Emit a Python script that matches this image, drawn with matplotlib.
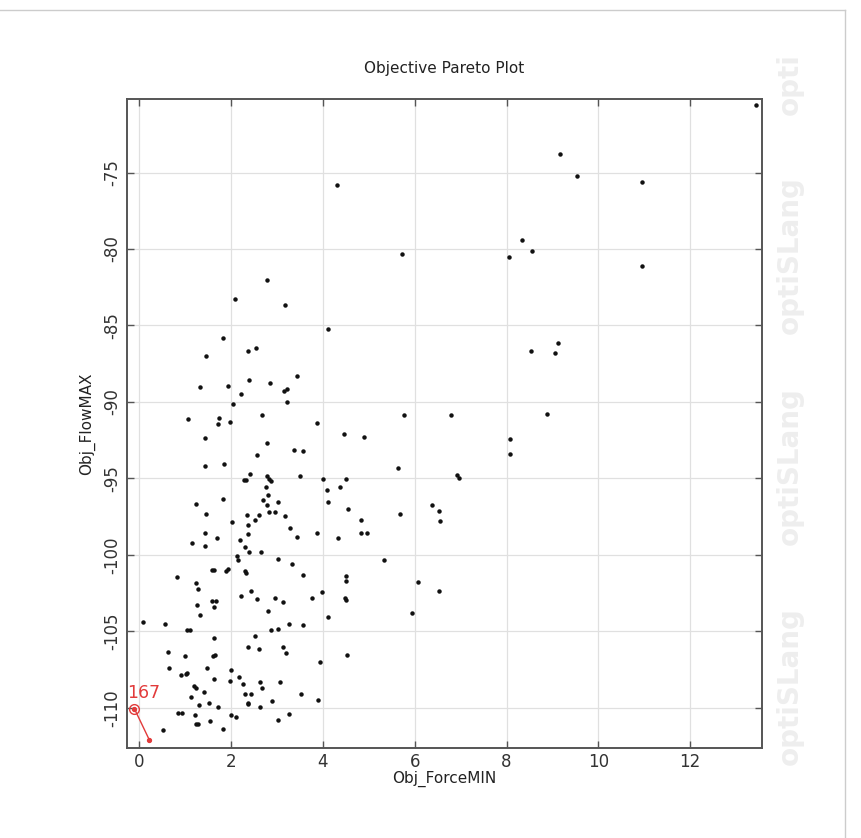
import numpy as np
import matplotlib
matplotlib.use("Agg")
import matplotlib.pyplot as plt
from matplotlib.lines import Line2D

plt.rcParams['axes.unicode_minus'] = False

# Pareto designs: (Obj_ForceMIN, Obj_FlowMAX)
force_min = [
    4.31, 2.78, 2.08, 3.17, 4.12, 1.82, 13.44, 9.17, 9.54, 10.96,
    5.72, 8.05, 8.34, 8.56, 10.96, 9.13, 8.54, 9.06, 5.77, 6.78,
    8.88, 8.07, 8.08, 5.64, 6.93, 6.96, 6.38, 6.53, 5.67, 6.54,
    5.34, 6.07, 6.52, 5.94, 1.46, 2.36, 2.55, 1.32, 1.94, 2.38,
    2.85, 2.22, 2.03, 2.68, 1.06, 1.73, 1.71, 1.98, 1.42, 2.77,
    2.56, 1.43, 1.85, 3.15, 3.22, 3.44, 3.22, 3.86, 4.45, 4.89,
    3.36, 3.56, 3.49, 3.99, 4.50, 4.09, 4.37, 4.11, 4.55, 3.17,
    3.28, 3.43, 3.87, 4.32, 4.82, 4.82, 4.96, 3.03, 3.32, 3.56,
    4.50, 3.03, 2.42, 2.29, 2.32, 2.78, 2.82, 2.86, 2.75, 2.80,
    2.69, 2.78, 2.83, 2.95, 1.82, 1.24, 1.45, 2.35, 2.60, 2.51,
    2.02, 2.36, 1.42, 2.37, 1.69, 1.15, 1.42, 2.19, 2.31, 2.39,
    2.64, 2.13, 2.15, 1.59, 1.63, 1.89, 1.93, 2.30, 2.32, 0.81,
    1.24, 1.27, 2.43, 2.22, 2.56, 2.95, 1.59, 1.68, 1.25, 4.50,
    3.97, 3.76, 4.47, 4.50, 3.13, 1.63, 1.32, 0.07, 0.56, 1.03,
    1.11, 2.81, 2.87, 2.51, 1.63, 2.37, 2.61, 0.63, 0.99, 1.61,
    1.65, 0.65, 1.47, 2.00, 0.91, 1.02, 1.03, 1.62, 1.98, 2.17,
    2.26, 2.63, 2.68, 1.18, 1.24, 1.40, 1.12, 2.30, 2.43, 2.36,
    2.37, 1.52, 1.29, 1.71, 2.63, 2.88, 0.84, 0.92, 1.21, 2.00,
    2.11, 1.24, 1.27, 1.53, 1.82, 0.51, 4.10, 3.26, 3.57, 3.03,
    3.12, 3.19, 4.53, 3.94, 3.07, 3.52, 3.89, 3.27, 3.01,
]
flow_max = [
    -75.8, -82.05, -83.3, -83.65, -85.25, -85.85, -70.6, -73.8, -75.2, -75.6,
    -80.3, -80.55, -79.4, -80.1, -81.1, -86.17, -86.7, -86.83, -90.87, -90.83,
    -90.8, -92.42, -93.42, -94.35, -94.8, -95.0, -96.76, -97.11, -97.33, -97.8,
    -100.33, -101.77, -102.35, -103.8, -87.02, -86.7, -86.5, -89.02, -88.93, -88.59,
    -88.74, -89.46, -90.13, -90.83, -91.15, -91.07, -91.44, -91.33, -92.39, -92.7,
    -93.44, -94.22, -94.05, -89.29, -89.13, -88.28, -90.0, -91.35, -92.13, -92.28,
    -93.13, -93.24, -94.87, -95.07, -95.07, -95.74, -95.59, -96.53, -97.02, -97.48,
    -98.26, -98.83, -98.57, -98.89, -97.74, -98.55, -98.55, -100.28, -100.57, -101.31,
    -101.37, -96.57, -94.7, -95.13, -95.13, -94.87, -95.05, -95.18, -95.59, -96.07,
    -96.42, -96.74, -97.18, -97.18, -96.33, -96.66, -97.35, -97.39, -97.39, -97.72,
    -97.85, -98.05, -98.59, -98.63, -98.91, -99.2, -99.4, -99.02, -99.5, -99.79,
    -99.79, -100.05, -100.33, -100.96, -100.96, -101.03, -100.94, -101.03, -101.16, -101.48,
    -101.87, -102.24, -102.35, -102.7, -102.87, -102.85, -103.05, -103.0, -103.27, -101.72,
    -102.4, -102.8, -102.8, -102.98, -103.09, -103.41, -103.96, -104.39, -104.55, -104.94,
    -104.94, -103.7, -104.92, -105.29, -105.42, -106.05, -106.16, -106.38, -106.64, -106.6,
    -106.57, -107.42, -107.4, -107.53, -107.83, -107.81, -107.7, -108.11, -108.24, -107.96,
    -108.42, -108.29, -108.68, -108.6, -108.73, -109.0, -109.31, -109.07, -109.07, -109.66,
    -109.77, -109.72, -109.85, -109.96, -109.96, -109.57, -110.37, -110.33, -110.48, -110.46,
    -110.63, -111.09, -111.05, -110.85, -111.4, -111.48, -104.05, -104.5, -104.57, -104.85,
    -106.0, -106.44, -106.57, -107.0, -108.29, -109.09, -109.48, -110.42, -110.81,
]

# highlighted design 167 and the point its label line points to
sel_id = "167"
sel_x = [-0.11, 0.22]
sel_y = [-110.05, -112.12]

xticks = [0, 2, 4, 6, 8, 10, 12]
yticks = [-75, -80, -85, -90, -95, -100, -105, -110]

fig = plt.figure(figsize=(8.62, 8.38), dpi=100)
ax = fig.add_axes([0.1473, 0.1078, 0.7364, 0.7741])

ax.plot(force_min, flow_max, 'o', color='#111111', markersize=2.2, linestyle='none')

red = '#e23b3b'
ax.plot(sel_x, sel_y, color=red, lw=1.0)
ax.plot(sel_x[0], sel_y[0], 'o', mfc='none', mec=red, markersize=7, mew=1.0)
ax.plot(sel_x, sel_y, 'o', color=red, markersize=2.8, linestyle='none')
ax.annotate(sel_id, xy=(sel_x[0], sel_y[0]), xytext=(-7, 7),
            textcoords='offset pixels', color=red, fontsize=12.5,
            ha='left', va='bottom')

ax.set_xlim(-0.27, 13.56)
ax.set_ylim(-112.61, -70.19)
ax.set_xticks(xticks)
ax.set_yticks(yticks)
ax.grid(color='#e0e0e0', lw=0.9)
ax.set_axisbelow(True)
ax.tick_params(direction='in', length=5, width=1.0, color='#555555',
               top=True, right=True, labelsize=12, labelcolor='#333333', pad=4)
for lab in ax.get_yticklabels():
    lab.set_rotation(90)
    lab.set_va('center')
for sp in ax.spines.values():
    sp.set_color('#555555')
    sp.set_linewidth(1.4)

ax.set_xlabel('Obj_ForceMIN', fontsize=11, color='#222222', labelpad=0)
ax.set_ylabel('Obj_FlowMAX', fontsize=11, color='#222222')
ax.yaxis.set_label_coords(-0.05, 0.5)
fig.text(0.5157, 1 - 68 / 838, 'Objective Pareto Plot', ha='center', va='center',
         fontsize=11, color='#222222')

# faint watermark on the right
wm = '#eeeeee'
for yc in [686, 466, 255]:
    fig.text(790 / 862, 1 - yc / 838, 'optiSLang', rotation=90, ha='center',
             va='center', fontsize=20, color=wm, fontweight='bold')
fig.text(790 / 862, 1 - 115 / 838, 'opti', rotation=90, ha='center',
         va='bottom', fontsize=20, color=wm, fontweight='bold')

# light frame lines of the exported picture
fig.add_artist(Line2D([0, 845 / 862], [1 - 10 / 838, 1 - 10 / 838], color='#cccccc', lw=1))
fig.add_artist(Line2D([845 / 862, 845 / 862], [0, 1 - 10 / 838], color='#cccccc', lw=1))

fig.savefig("out.png", dpi=100)
